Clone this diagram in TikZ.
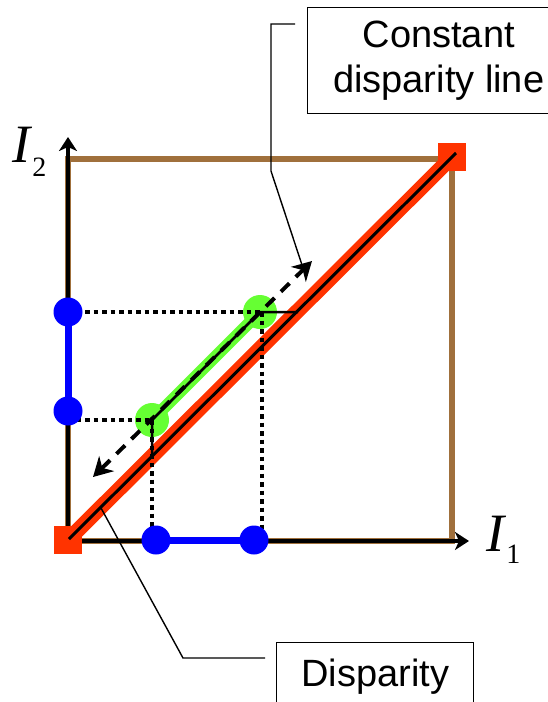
\documentclass[tikz,border=0pt]{standalone}
\usepackage{fontspec}
\setmainfont{Liberation Serif}
\setsansfont{Liberation Sans}
\usetikzlibrary{arrows.meta}
\definecolor{framec}{HTML}{A0703C}
\definecolor{diagc}{HTML}{FF3300}
\definecolor{pairc}{HTML}{66FF33}
\definecolor{projc}{HTML}{0000FF}

\begin{document}
\begin{tikzpicture}[x=1pt, y=-1pt, font=\sffamily]
  \tikzset{
    bdot/.style={circle, fill=projc, inner sep=0pt, minimum size=29pt},
    gdot/.style={circle, fill=pairc, inner sep=0pt, minimum size=34pt},
    corner/.style={fill=diagc, inner sep=0pt, minimum size=28pt},
    proj/.style={line width=4.5pt, dash pattern=on 4.5pt off 4pt},
    axis/.style={line width=4pt, -{Stealth[length=14pt, width=18pt, inset=4pt]}},
    dasharrow/.style={line width=4pt, dash pattern=on 12pt off 9pt,
      {Stealth[length=19pt, width=21pt, inset=6pt]}-{Stealth[length=19pt, width=21pt, inset=6pt]}},
    leader/.style={line width=1.4pt},
    callout/.style={draw, line width=1.4pt, font=\fontsize{38}{45}\selectfont\sffamily, align=center},
    axlab/.style={anchor=base west, inner sep=0pt, font=\rmfamily}
  }
  \useasboundingbox (0,0) rectangle (548,702);

  % intensity plane
  \draw[framec, line width=5.5pt] (68,541) -- (68,159) -- (452,159) -- (452,541) -- cycle;
  \coordinate (O) at (68,541);
  \draw[axis] (O) -- (469,541);
  \draw[axis] (O) -- (68,137);
  \node[axlab] (i1) at (486,551) {\fontsize{54}{54}\selectfont\textit{I}\raisebox{-12pt}{\fontsize{28}{28}\selectfont 1}};
  \node[axlab] (i2) at (12,162) {\fontsize{54}{54}\selectfont\textit{I}\raisebox{-14pt}{\fontsize{28}{28}\selectfont 2}};

  % zero disparity diagonal
  \node[corner] (lo) at (68,540) {};
  \node[corner] (hi) at (452,157) {};
  \draw[diagc, line width=15pt] (lo.center) -- (hi.center);
  \coordinate (d0) at (69,539);
  \coordinate (d1) at (456,153);
  \draw[line width=3pt] (d0) -- (d1);

  % matched pair on a constant disparity line
  \node[gdot] (g1) at (152,420) {};
  \node[gdot] (g2) at (260,312) {};
  \draw[pairc, line width=12pt] (g1.center) -- (g2.center);
  \coordinate (dv) at (152,456);
  \coordinate (dh) at (298,312);
  \draw[line width=2.5pt] (dv) -- (g1.center) -- (g2.center) -- (dh);

  % projections onto the axes
  \node[bdot, fill=none] (yb1) at (68,411) {};
  \node[bdot, fill=none] (yb2) at (68,312) {};
  \node[bdot, fill=none] (xb1) at (156,540) {};
  \node[bdot, fill=none] (xb2) at (254,540) {};
  \draw[proj] (yb2.center) -- (g2.center);
  \draw[proj] (yb1 |- g1) -- (g1.center);
  \draw[proj] (g1.center) -- (g1 |- xb1);
  \draw[proj] (262,312) -- (262,540);
  \draw[projc, line width=7pt] (yb1.center) -- (yb2.center);
  \draw[projc, line width=7pt] (xb1.center) -- (xb2.center);
  \foreach \p in {yb1,yb2,xb1,xb2} { \fill[projc] (\p) circle (14.5pt); }

  % constant disparity direction
  \coordinate (ca) at (93,477);
  \coordinate (cb) at (312,261);
  \draw[dasharrow] (ca) -- (cb);

  % callouts
  \node[callout, anchor=north west, minimum width=262pt, minimum height=106pt] (cdl) at (307,7) {Constant\\disparity line};
  \coordinate (l1) at (295,24);
  \coordinate (l2) at (271,24);
  \coordinate (l3) at (271,171);
  \coordinate (l4) at (302,265);
  \draw[leader] (l1) -- (l2) -- (l3) -- (l4);

  \node[callout, anchor=north west, minimum width=197pt, inner ysep=0pt, text height=44pt, text depth=40pt] (disp) at (276,642) {Disparity};
  \coordinate (m1) at (265,658);
  \coordinate (m2) at (183,658);
  \coordinate (m3) at (101,508);
  \draw[leader] (m1) -- (m2) -- (m3);
\end{tikzpicture}
\end{document}
